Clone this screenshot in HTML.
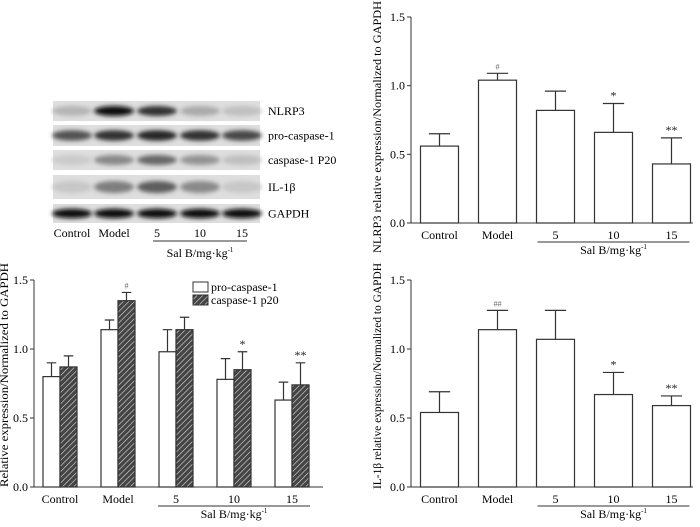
<!DOCTYPE html>
<html><head><meta charset="utf-8"><style>
body{margin:0;background:#fff}
svg{font-family:"Liberation Serif",serif}
</style></head><body>
<svg id="s" width="700" height="522" viewBox="0 0 700 522" xmlns="http://www.w3.org/2000/svg">
<defs>
<filter id="bl" x="-20%" y="-50%" width="140%" height="200%"><feGaussianBlur stdDeviation="2"/></filter>
<pattern id="hatch" width="4" height="4" patternUnits="userSpaceOnUse" patternTransform="rotate(45)">
<rect width="4" height="4" fill="#444"/><line x1="0" y1="0" x2="0" y2="4" stroke="#ddd" stroke-width="1.2"/></pattern>
</defs>
<g id="blot"></g>
<g id="c1"></g>
<g id="c2"></g>
<g id="c3"></g>
</svg>
<script>
const categories=["Control","Model","5","10","15"];
const yTicks=[0,0.5,1.0,1.5];
const yTickLabels=["0.0","0.5","1.0","1.5"];
const nlrp3Values=[0.56,1.04,0.82,0.66,0.43];
const nlrp3Err=[0.09,0.05,0.14,0.21,0.19];
const nlrp3Sig=["","#","","*","**"];
const il1bValues=[0.54,1.14,1.07,0.67,0.59];
const il1bErr=[0.15,0.14,0.21,0.16,0.07];
const il1bSig=["","##","","*","**"];
const proValues=[0.80,1.14,0.98,0.78,0.63];
const proErr=[0.10,0.07,0.16,0.15,0.13];
const p20Values=[0.87,1.35,1.14,0.85,0.74];
const p20Err=[0.08,0.06,0.09,0.13,0.16];
const p20Sig=["","#","","*","**"];
const blotRows=["NLRP3","pro-caspase-1","caspase-1 P20","IL-1β","GAPDH"];
const blotIntensity=[[0.2,0.95,0.8,0.25,0.15],[0.65,0.8,0.85,0.8,0.7],[0.1,0.4,0.55,0.35,0.15],[0.12,0.45,0.6,0.4,0.12],[0.98,0.98,0.98,0.95,0.95]];
const NS="http://www.w3.org/2000/svg";
function mk(p,t,a,txt){const e=document.createElementNS(NS,t);for(const k in a)e.setAttribute(k,a[k]);if(txt!==undefined)e.textContent=txt;p.appendChild(e);return e;}

function axes(g,x0,y0,y1,x1,title,cx,tx,tcy,tlen){
  const ys=v=>y0-(v/1.5)*(y0-y1);
  const ax=mk(g,'path',{d:`M${x0},${y1}V${y0}H${x1}`,fill:'none',stroke:'#333','stroke-width':1});
  
  yTicks.forEach((v,i)=>{
    const t=mk(g,'line',{x1:x0-4,x2:x0,y1:ys(v),y2:ys(v),stroke:'#333'});
    
    const l=mk(g,'text',{x:x0-6,y:ys(v)+4,'text-anchor':'end','font-size':12},yTickLabels[i]);
    
  });
  const tt=mk(g,'text',{transform:`translate(${tx},${tcy}) rotate(-90)`,'text-anchor':'middle','font-size':11.5,textLength:tlen,lengthAdjust:'spacingAndGlyphs'},title);
  
  categories.forEach((c,i)=>{
    const l=mk(g,'text',{x:cx(i),y:y0+16,'text-anchor':'middle','font-size':12},c);
    
  });
  const u=mk(g,'line',{x1:cx(2)-18,x2:cx(4)+18,y1:y0+19,y2:y0+19,stroke:'#333'});
  
  const s=mk(g,'text',{x:(cx(2)+cx(4))/2,y:y0+31,'text-anchor':'middle','font-size':12});
  
  s.innerHTML='Sal B/mg·kg<tspan dy="-5" font-size="7">-1</tspan>';
  return ys;
}
function bar(g,x,w,v,e,ys,fill,sig,name){
  const r=mk(g,'rect',{x:x,y:ys(v),width:w,height:ys(0)-ys(v),fill:fill,stroke:'#333','stroke-width':1.2});
  
  const c=x+w/2;
  const eb=mk(g,'path',{d:`M${c},${ys(v)}V${ys(v+e)}M${c-w*0.28},${ys(v+e)}H${c+w*0.28}`,stroke:'#333','stroke-width':1.2,fill:'none'});
  
  if(sig){const t=mk(g,'text',{x:c,y:ys(v+e)-4,'text-anchor':'middle','font-size':sig.includes('#')?8:12,fill:sig.includes('#')?'#666':'#222'},sig);
    }
}
function single(id,y0,y1,vals,errs,sigs,title,tcy,tlen){
  const g=document.getElementById(id);
  const cx=i=>439.5+i*58;
  const ys=axes(g,411,y0,y1,693,title,cx,381,tcy,tlen);
  vals.forEach((v,i)=>bar(g,cx(i)-19,38,v,errs[i],ys,'#fff',sigs[i],'bar-'+categories[i].toLowerCase()));
}
single('c1',223,17,nlrp3Values,nlrp3Err,nlrp3Sig,'NLRP3 relative expression/Normalized to GAPDH',127,252);
single('c3',487,280,il1bValues,il1bErr,il1bSig,'IL-1β relative expression/Normalized to GAPDH',376,226);
(function(){
  const g=document.getElementById('c2');
  const cx=i=>60+i*58;
  const ys=axes(g,34,487,280,323,'Relative expression/Normalized to GAPDH',cx,8,375,224);
  categories.forEach((c,i)=>{
    bar(g,cx(i)-17,17,proValues[i],proErr[i],ys,'#fff','','bar-pro-'+c.toLowerCase());
    bar(g,cx(i),17,p20Values[i],p20Err[i],ys,'url(#hatch)',p20Sig[i],'bar-p20-'+c.toLowerCase());
  });
  const l1=mk(g,'rect',{x:193,y:282,width:15,height:10,fill:'#fff',stroke:'#333'});
  
  const t1=mk(g,'text',{x:211,y:291,'font-size':12},'pro-caspase-1');
  
  const l2=mk(g,'rect',{x:193,y:295,width:15,height:10,fill:'url(#hatch)',stroke:'#333'});
  
  const t2=mk(g,'text',{x:211,y:304,'font-size':12},'caspase-1 p20');
  
})();
(function(){
  const g=document.getElementById('blot');
  const rows=[[101,121],[125,146],[150,170],[175,199],[204,223]];
  const lanes=[72,114,157,200,242];
  rows.forEach((r,ri)=>{
    const bg=mk(g,'rect',{x:53,y:r[0],width:207,height:r[1]-r[0],fill:'#dedede'});
    
    const cy=(r[0]+r[1])/2,h=(r[1]-r[0]);
    blotIntensity[ri].forEach((v,li)=>{
      const c=Math.round(225-v*220);
      const e=mk(g,'ellipse',{cx:lanes[li],cy:cy,rx:20,ry:h*0.25,fill:`rgb(${c},${c},${c})`,filter:'url(#bl)'});
      
    });
    const t=mk(g,'text',{x:268,y:cy+4,'font-size':12},blotRows[ri]);
    
  });
  categories.forEach((c,i)=>{
    const t=mk(g,'text',{x:lanes[i],y:237,'text-anchor':'middle','font-size':12},c);
    
  });
  const u=mk(g,'line',{x1:153,x2:247,y1:241,y2:241,stroke:'#333'});
  
  const s=mk(g,'text',{x:200,y:257,'text-anchor':'middle','font-size':12});
  
  s.innerHTML='Sal B/mg·kg<tspan dy="-5" font-size="7">-1</tspan>';
})();
</script>
</body></html>
